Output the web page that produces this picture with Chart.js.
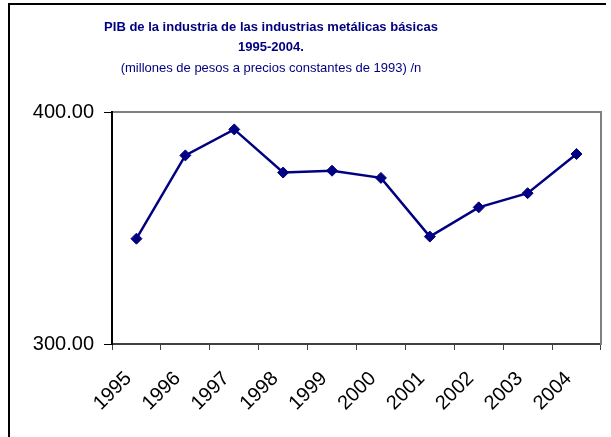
<!DOCTYPE html>
<html>
<head>
<meta charset="utf-8">
<script src="https://cdn.jsdelivr.net/npm/chart.js@4/dist/chart.umd.min.js"></script>
<style>
  html, body { margin: 0; padding: 0; background: #fff; }
  #wrap { width: 611px; height: 437px; position: relative; }
  #chart { position: absolute; left: 0; top: 0; }
  .frame { position: absolute; background: #000; }
</style>
</head>
<body>
<div id="wrap">
  <canvas id="chart" width="611" height="437"></canvas>
  <div class="frame" style="left:8px; top:3px; width:2px; height:434px;"></div>
  <div class="frame" style="left:8px; top:3px; width:598px; height:2px;"></div>
</div>
<script>
// data
const years = ['1995', '1996', '1997', '1998', '1999', '2000', '2001', '2002', '2003', '2004'];
const pib = [345.4, 381.3, 392.5, 373.9, 374.7, 371.6, 346.3, 358.9, 365.0, 381.9];
const titleLines = [
  'PIB de la industria de las industrias metálicas básicas',
  '1995-2004.',
  '(millones de pesos a precios constantes de 1993) /n'
];
const yMin = 300, yMax = 400;

const navy = '#000080';
const fontFamily = '"Liberation Sans", Arial, sans-serif';

// title drawn left of centre, like the excel object
const titlePlugin = {
  id: 'titlePlugin',
  afterDraw(chart) {
    const ctx = chart.ctx;
    ctx.save();
    ctx.fillStyle = navy;
    ctx.textAlign = 'center';
    ctx.textBaseline = 'middle';
    ctx.font = 'bold 13px ' + fontFamily;
    ctx.fillText(titleLines[0], 271, 27);
    ctx.fillText(titleLines[1], 271, 47);
    ctx.font = '13px ' + fontFamily;
    ctx.fillText(titleLines[2], 271, 68);
    ctx.restore();
  }
};

// empty axes used only for the grey top / right plot border
const borderOnly = {
  display: true,
  grid: { display: false },
  ticks: { display: false },
  border: { display: true, color: '#808080', width: 2 }
};

new Chart(document.getElementById('chart'), {
  type: 'line',
  data: {
    labels: years,
    datasets: [{
      data: pib,
      borderColor: navy,
      backgroundColor: navy,
      borderWidth: 2.5,
      pointStyle: 'rectRot',
      pointRadius: 5.5,
      pointBorderWidth: 1,
      tension: 0
    }]
  },
  options: {
    responsive: false,
    animation: false,
    layout: { padding: { top: 112, right: 8, left: 0, bottom: 0 } },
    plugins: {
      legend: { display: false },
      tooltip: { enabled: false }
    },
    scales: {
      x: {
        offset: true,
        grid: {
          offset: true,
          drawOnChartArea: false,
          color: '#404040',
          tickLength: 6
        },
        border: { color: '#404040', width: 2 },
        ticks: {
          color: '#000',
          font: { family: fontFamily, size: 20 },
          minRotation: 45,
          maxRotation: 45,
          padding: 17,
          labelOffset: -8
        },
        afterFit(axis) { axis.height = 93; }
      },
      xTop: Object.assign({ type: 'category', position: 'top', afterFit(axis) { axis.height = 0; } }, borderOnly),
      y: {
        min: yMin,
        max: yMax,
        grid: {
          drawOnChartArea: false,
          color: '#000',
          tickLength: 8
        },
        border: { color: '#000', width: 2 },
        ticks: {
          stepSize: 100,
          color: '#000',
          padding: 10,
          font: { family: fontFamily, size: 20 },
          callback: v => v.toFixed(2)
        },
        afterFit(axis) { axis.width = 112; }
      },
      yRight: Object.assign({ type: 'linear', position: 'right', min: yMin, max: yMax, afterFit(axis) { axis.width = 0; } }, borderOnly)
    }
  },
  plugins: [titlePlugin]
});
</script>
</body>
</html>
